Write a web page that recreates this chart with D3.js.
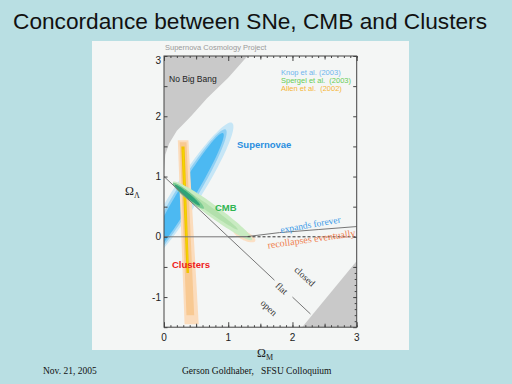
<!DOCTYPE html>
<head>
<meta charset="utf-8">
<title>Concordance</title>
<style>
  body { margin:0; background:#b9dfe3; }
  svg { display:block; }
  .sans { font-family: "Liberation Sans", Arial, sans-serif; }
  .serif { font-family: "Liberation Serif", "Times New Roman", serif; }
</style>
</head>
<body>
<script src="https://d3js.org/d3.v7.min.js"></script>
<script>
// ---- data (Omega_M, Omega_Lambda) ----
var xLabels = [0, 1, 2, 3];
var yLabels = [-1, 0, 1, 2, 3];

var noBigBang = [[0,3],[0,1.1],[0.02,1.36],[0.08,1.55],[0.2,1.76],[0.42,2.0],[0.67,2.3],[1.0,2.64],[1.3,3.0]];
var unphysical = [[2.15,-1.5],[3,-0.4],[3,-1.5]];

// ellipses: centre, tip of long axis, half width (in Omega_M units)
var snContours = [
  {cx:0.33, cy:0.68, tx:1.06, ty:1.89, w:0.21, c:"#c6e6f6"},
  {cx:0.33, cy:0.68, tx:0.96, ty:1.78, w:0.165, c:"#8fd0f4"},
  {cx:0.33, cy:0.68, tx:0.92, ty:1.72, w:0.13, c:"#4cb9f2"}
];
var cmbContours = [
  {cx:1.25, cy:0.02, tx:1.42, ty:-0.07, w:0.07, c:"#fbdfc4"},
  {cx:0.755, cy:0.43, tx:1.37, ty:-0.05, w:0.095, c:"#c9ebc2"},
  {cx:0.65, cy:0.5, tx:1.15, ty:0.12, w:0.045, c:"#b2e0ac"},
  {cx:0.38, cy:0.68, tx:0.62, ty:0.47, w:0.055, c:"#7ccb92"},
  {cx:0.365, cy:0.69, tx:0.56, ty:0.52, w:0.035, c:"#2fa477"}
];
var clusterBands = [
  {pts:[[0.215,1.6],[0.38,1.6],[0.54,-1.45],[0.32,-1.45]], c:"#fbdcbc"},
  {pts:[[0.245,1.57],[0.35,1.57],[0.47,-1.3],[0.35,-1.3]], c:"#f8c992"},
  {pts:[[0.27,1.5],[0.32,1.5],[0.39,-0.6],[0.35,-0.6]], c:"#f0c400"},
  {pts:[[0.288,1.45],[0.306,1.45],[0.375,-0.45],[0.362,-0.45]], c:"#f6d600"}
];

var flatSegments = [[[0,1],[1.72,-0.72]], [[2.0,-1.0],[2.28,-1.28]]];
var zeroLine = [[0,0],[1.3,0]];
var recollapse = [[1.0,0],[1.3,0.005],[1.8,0.07],[2.4,0.12],[3,0.17]];
var dashedZero = [[1.3,0],[3,0]];

var legend = [
  {name:"Knop et al. (2003)", c:"#6fb5ee"},
  {name:"Spergel et al.  (2003)", c:"#66cc55"},
  {name:"Allen et al.  (2002)", c:"#f5b535"}
];

// ---- page ----
var svg = d3.select("body").append("svg").attr("width", 512).attr("height", 384);

svg.append("text").attr("class","sans")
  .attr("x", 250).attr("y", 29).attr("text-anchor","middle")
  .attr("font-size", 21.5).attr("textLength", 474).attr("lengthAdjust","spacingAndGlyphs")
  .attr("fill","#111").text("Concordance between SNe, CMB and Clusters");

svg.append("rect").attr("x",92).attr("y",41).attr("width",317).attr("height",309).attr("fill","#f4f6f5");

var x = d3.scaleLinear().domain([0,3]).range([164,356.7]);
var y = d3.scaleLinear().domain([-1.5,3]).range([327.2,56]);

svg.append("defs").append("clipPath").attr("id","clip")
  .append("rect").attr("x", x(0)).attr("y", y(3))
  .attr("width", x(3)-x(0)).attr("height", y(-1.5)-y(3));

var plot = svg.append("g").attr("clip-path","url(#clip)");
var line = d3.line().x(function(d){return x(d[0])}).y(function(d){return y(d[1])});

plot.append("path").attr("d", line(noBigBang) + "Z").attr("fill","#c9c9c9");
plot.append("path").attr("d", line(unphysical) + "Z").attr("fill","#c9c9c9");

function ellipsePath(e) {
  var cx = x(e.cx), cy = y(e.cy);
  var ax = x(e.tx) - cx, ay = y(e.ty) - cy;
  var L = Math.sqrt(ax*ax + ay*ay);
  var nx = -ay / L, ny = ax / L;
  var b = x(e.w) - x(0);
  var pts = d3.range(0, 64).map(function(i) {
    var t = i / 64 * 2 * Math.PI;
    return [cx + Math.cos(t)*ax + Math.sin(t)*b*nx, cy + Math.cos(t)*ay + Math.sin(t)*b*ny];
  });
  return d3.line().curve(d3.curveCardinalClosed)(pts);
}

plot.selectAll(".sn").data(snContours).enter().append("path")
  .attr("d", ellipsePath).attr("fill", function(d){return d.c});

plot.selectAll(".cl").data(clusterBands).enter().append("path")
  .attr("d", function(d){return line(d.pts) + "Z"}).attr("fill", function(d){return d.c});

plot.selectAll(".cmb").data(cmbContours).enter().append("path")
  .attr("d", ellipsePath).attr("fill", function(d){return d.c});

plot.selectAll(".flat").data(flatSegments).enter().append("path")
  .attr("d", line).attr("fill","none").attr("stroke","#777").attr("stroke-width",1);
plot.append("path").attr("d", line(zeroLine)).attr("fill","none").attr("stroke","#777").attr("stroke-width",1);
plot.append("path").attr("d", line(recollapse)).attr("fill","none").attr("stroke","#777").attr("stroke-width",1);
plot.append("path").attr("d", line(dashedZero)).attr("fill","none").attr("stroke","#333")
  .attr("stroke-width",1).attr("stroke-dasharray","3,2");

// ---- axes, ticks pointing into the plot ----
function tickAxis(gen, scale, vals, size, pos, horiz) {
  var a = gen(scale).tickValues(vals).tickSize(size).tickFormat("");
  var g = svg.append("g").attr("transform", horiz ? "translate(0," + pos + ")" : "translate(" + pos + ",0)").call(a);
  g.select(".domain").remove();
  g.selectAll("line").attr("stroke","#444");
}
var tenths = d3.range(0, 31).map(function(i){return i/10});
var halves = [0.5, 1.5, 2.5];
tickAxis(d3.axisBottom, x, tenths, -2, y(-1.5), true);
tickAxis(d3.axisBottom, x, halves, -3.5, y(-1.5), true);
tickAxis(d3.axisBottom, x, xLabels, -5, y(-1.5), true);
tickAxis(d3.axisTop, x, tenths, -2, y(3), true);
tickAxis(d3.axisTop, x, halves, -3.5, y(3), true);
tickAxis(d3.axisTop, x, xLabels, -5, y(3), true);
var yHalves = d3.range(-3, 7).map(function(i){return i/2});
tickAxis(d3.axisLeft, y, yHalves, -3.5, x(0), false);
tickAxis(d3.axisRight, y, yHalves, -3.5, x(3), false);
tickAxis(d3.axisRight, y, d3.range(-14, -4).map(function(i){return i/10}), -2, x(3), false);

svg.append("rect").attr("x", x(0)).attr("y", y(3))
  .attr("width", x(3)-x(0)).attr("height", y(-1.5)-y(3))
  .attr("fill","none").attr("stroke","#444").attr("stroke-width",1);

svg.selectAll(".xl").data(xLabels).enter().append("text").attr("class","sans")
  .attr("x", function(d){return x(d)}).attr("y", 341).attr("text-anchor","middle")
  .attr("font-size",10).attr("fill","#222").text(function(d){return d});
svg.selectAll(".yl").data(yLabels).enter().append("text").attr("class","sans")
  .attr("x", 161).attr("y", function(d){return Math.max(y(d), 60) + 3.5}).attr("text-anchor","end")
  .attr("font-size",10).attr("fill","#222").text(function(d){return d});

// axis titles
var yt = svg.append("text").attr("class","serif").attr("x",125).attr("y",195).attr("font-size",12).attr("fill","#222");
yt.append("tspan").text("\u03A9");
yt.append("tspan").attr("font-size",8).attr("dy",3).text("\u039B");
var xt = svg.append("text").attr("class","serif").attr("x",257).attr("y",357).attr("font-size",12).attr("fill","#222");
xt.append("tspan").text("\u03A9");
xt.append("tspan").attr("font-size",8).attr("dy",3).text("M");

// labels inside the figure
svg.append("text").attr("class","sans").attr("x",165).attr("y",49.5)
  .attr("font-size",7.5).attr("fill","#9a9a9a").text("Supernova Cosmology Project");
svg.append("text").attr("class","sans").attr("x",169).attr("y",81.5)
  .attr("font-size",8.5).attr("fill","#222").text("No Big Bang");
svg.selectAll(".lg").data(legend).enter().append("text").attr("class","sans")
  .attr("x",281).attr("y", function(d,i){return 74.5 + i*8.3})
  .attr("font-size",7.5).attr("fill", function(d){return d.c})
  .text(function(d){return d.name}).style("white-space","pre");

svg.append("text").attr("class","sans").attr("x",237).attr("y",147.5).attr("font-size",9.5)
  .attr("font-weight","bold").attr("fill","#2a8fe0").text("Supernovae");
svg.append("text").attr("class","sans").attr("x",215).attr("y",211).attr("font-size",9.5)
  .attr("font-weight","bold").attr("fill","#2fb552").text("CMB");
svg.append("text").attr("class","sans").attr("x",172).attr("y",267.5).attr("font-size",9.5)
  .attr("font-weight","bold").attr("fill","#ee2020").text("Clusters");

svg.append("text").attr("class","serif").attr("font-size",9.5).attr("fill","#3a9be8")
  .attr("transform","translate(281,233) rotate(-10)").text("expands forever");
svg.append("text").attr("class","serif").attr("font-size",10).attr("fill","#f08050")
  .attr("transform","translate(268,248.5) rotate(-8)").text("recollapses eventually");

var geoLabels = [{t:"closed", v:[2.19,-0.66]}, {t:"flat", v:[1.83,-0.86]}, {t:"open", v:[1.63,-1.18]}];
svg.selectAll(".geo").data(geoLabels).enter().append("text").attr("class","serif")
  .attr("font-size",9.5).attr("fill","#333").attr("text-anchor","middle")
  .attr("transform", function(d){return "translate(" + x(d.v[0]) + "," + y(d.v[1]) + ") rotate(43)"})
  .attr("dy", 3).text(function(d){return d.t});

// footer
svg.append("text").attr("class","serif").attr("x",43).attr("y",374).attr("font-size",9.5)
  .attr("fill","#111").text("Nov. 21, 2005");
svg.append("text").attr("class","serif").attr("x",182).attr("y",374).attr("font-size",9.5)
  .attr("fill","#111").style("white-space","pre").text("Gerson Goldhaber,   SFSU Colloquium");
</script>
</body>
